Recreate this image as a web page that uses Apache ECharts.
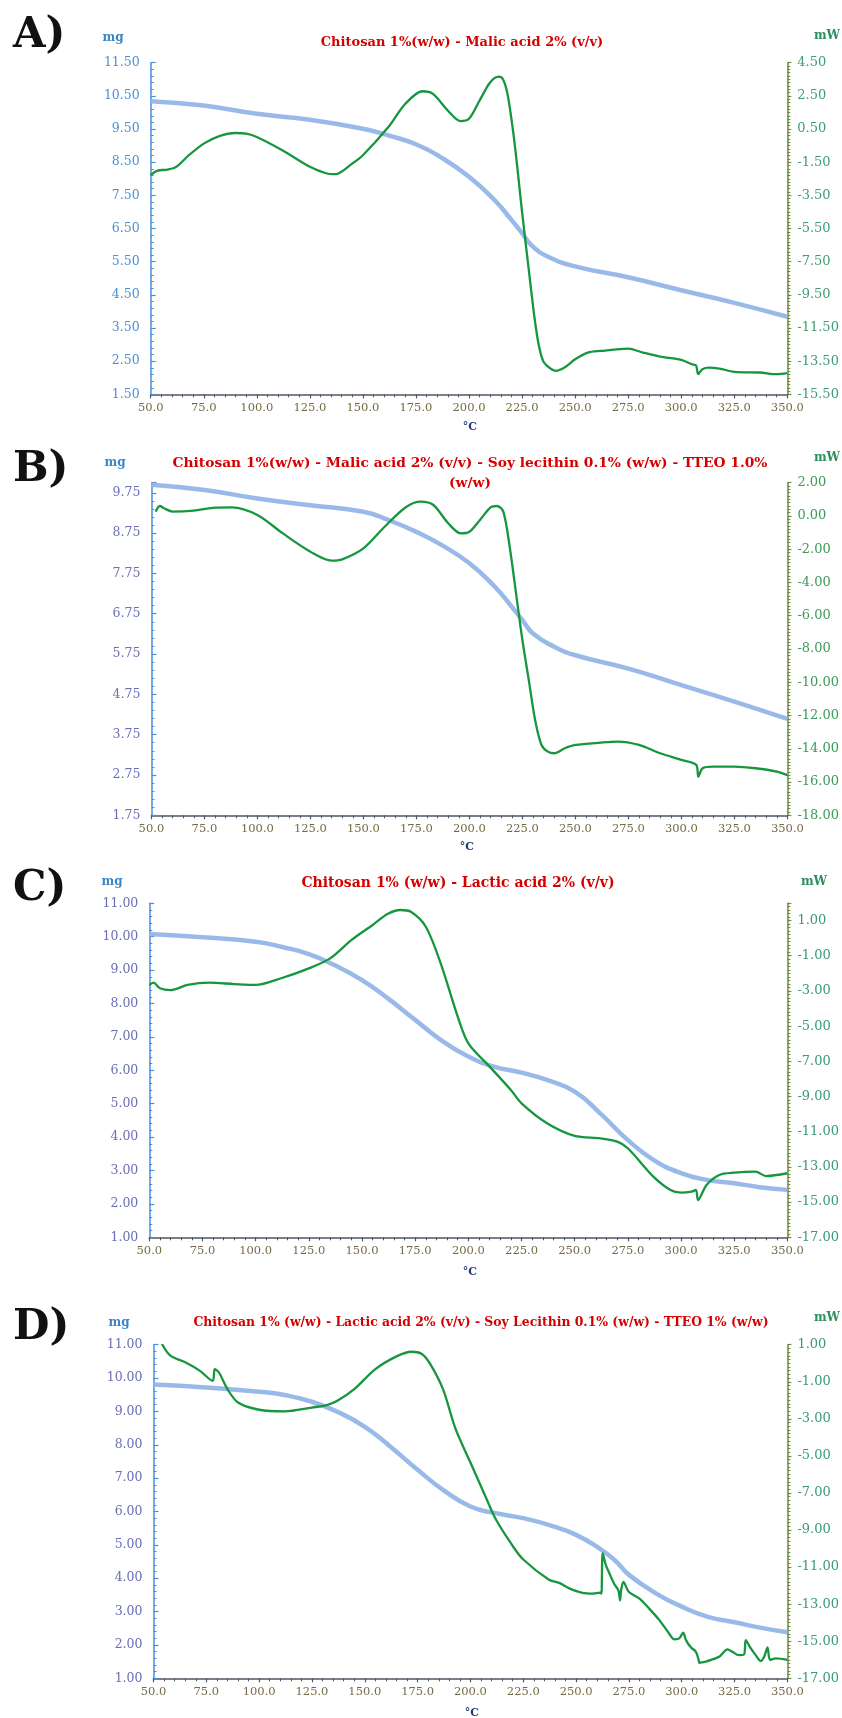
<!DOCTYPE html>
<html><head><meta charset="utf-8">
<script src="https://cdn.jsdelivr.net/npm/echarts@6/dist/echarts.min.js"></script>
<style>html,body{margin:0;padding:0;background:#fff}#c{width:842px;height:1718px}</style>
</head><body><div id="c"></div>
<script>
// ---- data (temperature °C, value) ----
const tgaA = [[50,10.34],[75,10.21],[100,9.96],[125,9.78],[150,9.51],[162,9.31],[175,9.04],[187,8.64],[200,8.06],[212,7.36],[220,6.76],[225,6.36],[230,5.96],[237,5.66],[250,5.36],[275,5.03],[300,4.64],[325,4.26],[350,3.84]];
const dscA = [[50,-2.28],[53,-2.02],[58,-1.94],[62,-1.78],[68,-1.08],[75,-0.38],[82,0.06],[90,0.26],[95,0.22],[100,0.02],[112,-0.78],[125,-1.78],[133,-2.18],[137,-2.22],[145,-1.58],[150,-1.08],[162,0.62],[170,2.02],[178,2.78],[183,2.62],[190,1.62],[196,0.98],[200,1.12],[205,2.22],[210,3.32],[214,3.66],[216,3.5],[218,2.7],[220,1.1],[222,-0.9],[225,-4.5],[228,-7.8],[231,-11.0],[233,-12.6],[235,-13.5],[238,-13.9],[241,-14.08],[245,-13.88],[250,-13.38],[256,-12.98],[262,-12.88],[275,-12.74],[282,-12.98],[290,-13.22],[300,-13.42],[305,-13.68],[307,-13.75],[308,-14.28],[310,-13.98],[313,-13.88],[318,-13.94],[325,-14.14],[337,-14.18],[345,-14.28],[350,-14.22]];

const tgaB = [[50,9.95],[75,9.82],[100,9.61],[125,9.44],[150,9.28],[162,9.07],[175,8.78],[187,8.45],[200,8.0],[212,7.42],[220,6.92],[225,6.59],[230,6.26],[240,5.93],[250,5.72],[275,5.39],[300,4.98],[325,4.57],[350,4.14]];
const dscB = [[52,0.26],[54,0.6],[56,0.46],[60,0.26],[70,0.32],[80,0.5],[88,0.52],[100,0.06],[112,-1.05],[125,-2.15],[135,-2.69],[140,-2.61],[150,-1.95],[160,-0.65],[170,0.52],[177,0.86],[183,0.66],[190,-0.44],[196,-1.05],[200,-0.95],[205,-0.24],[210,0.52],[213,0.6],[216,0.26],[219,-1.85],[222,-4.65],[225,-7.46],[228,-9.86],[231,-12.27],[234,-13.77],[237,-14.17],[240,-14.27],[245,-13.97],[250,-13.77],[262,-13.63],[270,-13.57],[280,-13.77],[290,-14.27],[300,-14.67],[307,-14.97],[308,-15.68],[310,-15.17],[315,-15.07],[325,-15.07],[335,-15.17],[345,-15.37],[350,-15.58]];

const tgaC = [[50,10.08],[75,9.98],[100,9.85],[112,9.70],[125,9.48],[137,9.15],[150,8.70],[162,8.16],[175,7.51],[187,6.91],[200,6.41],[212,6.11],[225,5.93],[237,5.71],[250,5.36],[262,4.71],[275,3.91],[287,3.32],[300,2.92],[312,2.72],[325,2.62],[337,2.50],[350,2.42]];
const dscC = [[50,-2.66],[52,-2.53],[55,-2.85],[60,-2.95],[68,-2.66],[78,-2.53],[90,-2.61],[100,-2.66],[112,-2.28],[125,-1.72],[135,-1.15],[145,-0.11],[155,0.75],[162,1.37],[168,1.60],[173,1.50],[180,0.65],[187,-1.43],[195,-4.46],[200,-5.98],[210,-7.30],[220,-8.63],[225,-9.39],[237,-10.52],[250,-11.24],[262,-11.38],[270,-11.56],[275,-11.94],[287,-13.55],[295,-14.31],[300,-14.46],[305,-14.40],[307,-14.31],[308,-14.88],[312,-14.03],[318,-13.46],[325,-13.33],[335,-13.27],[340,-13.52],[350,-13.36]];

const tgaD = [[50,9.81],[75,9.72],[100,9.59],[112,9.49],[125,9.29],[137,8.99],[150,8.54],[162,7.95],[175,7.25],[187,6.65],[200,6.15],[212,5.95],[225,5.80],[237,5.60],[250,5.30],[262,4.85],[269,4.50],[275,4.10],[289,3.50],[300,3.15],[312,2.85],[325,2.68],[337,2.52],[350,2.38]];
const dscD = [[54,1.04],[58,0.41],[65,0.05],[72,-0.41],[78,-0.95],[79,-0.32],[81,-0.50],[85,-1.40],[90,-2.12],[100,-2.51],[112,-2.60],[125,-2.39],[132,-2.26],[137,-2.03],[145,-1.40],[155,-0.32],[165,0.37],[172,0.62],[177,0.50],[181,-0.05],[187,-1.40],[193,-3.56],[200,-5.36],[207,-7.16],[212,-8.42],[220,-9.86],[225,-10.59],[237,-11.67],[242,-11.85],[247,-12.16],[253,-12.39],[258,-12.43],[261.5,-12.38],[262,-12.43],[262.6,-10.25],[264,-10.86],[266,-11.4],[268,-11.9],[270,-12.25],[270.8,-12.79],[271.3,-12.25],[272.4,-11.8],[275,-12.34],[280,-12.7],[284.6,-13.24],[289.4,-13.86],[294,-14.58],[296.5,-14.9],[298.8,-14.85],[300.7,-14.54],[302,-14.94],[304.3,-15.33],[306.7,-15.57],[308,-16.01],[308.3,-16.16],[311.4,-16.1],[314.6,-15.98],[317.7,-15.84],[321.7,-15.44],[324,-15.57],[327,-15.75],[329.5,-15.71],[330.3,-14.94],[332.7,-15.39],[335,-15.75],[337.4,-16.07],[339,-15.84],[340.6,-15.33],[341.8,-16.01],[344.5,-15.93],[350,-16.01]];

const letters = ['A)','B)','C)','D)'];
const titles = [
  ['Chitosan 1%(w/w) - Malic acid 2% (v/v)'],
  ['Chitosan 1%(w/w) - Malic acid 2% (v/v) - Soy lecithin 0.1% (w/w) - TTEO 1.0%','(w/w)'],
  ['Chitosan 1% (w/w) - Lactic acid 2% (v/v)'],
  ['Chitosan 1% (w/w) - Lactic acid 2% (v/v) - Soy Lecithin 0.1% (w/w) - TTEO 1% (w/w)']
];
const xRange = [50, 350, 25];
const leftRanges  = [[1.5,11.5,1],[1.75,10.0,1],[1,11,1],[1,11,1]];
const rightRanges = [[-15.5,4.5,2],[-18,2,2],[-17,1.98,2],[-17,1,2]];

// ---- layout ----
const FONT = 'DejaVu Serif';
const layout = [
  {grid:{left:150.7,top:62.7,width:636.6,height:331.7}, letterY:36, titleY:[43], titleX:462, titleSize:13, mg:[113,38], mW:[827,36], degC:[470,427], leftColor:'#4a90d9', rightColor:'#3f9d73'},
  {grid:{left:151.4,top:482.7,width:636.0,height:332.6}, letterY:470, titleY:[463,483], titleX:470, titleSize:13.8, mg:[115,463], mW:[827,458], degC:[467,847], leftColor:'#6a6fb5', rightColor:'#3d9a58'},
  {grid:{left:149.3,top:903.3,width:638.7,height:334.0}, letterY:889, titleY:[883], titleX:458, titleSize:14, mg:[112,882], mW:[814,882], degC:[470,1272], leftColor:'#6a6fb5', rightColor:'#3a9a78'},
  {grid:{left:153.5,top:1344.7,width:634.5,height:333.6}, letterY:1328, titleY:[1323], titleX:481, titleSize:12.4, mg:[119,1323], mW:[827,1318], degC:[472,1713], leftColor:'#6a6fb5', rightColor:'#3a9a78'}
];
const tgaSets = [tgaA,tgaB,tgaC,tgaD];
const dscSets = [dscA,dscB,dscC,dscD];

const grids=[], xAxes=[], yAxes=[], series=[], graphics=[];
layout.forEach((L,i)=>{
  grids.push(Object.assign({containLabel:false, show:false}, L.grid));
  xAxes.push({
    type:'value', gridIndex:i, min:xRange[0], max:xRange[1], interval:xRange[2],
    axisLine:{show:true, onZero:false, lineStyle:{color:'#4f5563', width:1.5}},
    axisTick:{show:true, inside:false, length:4, lineStyle:{color:'#4f5563', width:1.2}},
    minorTick:{show:true, splitNumber:5, length:3, lineStyle:{color:'#4f5563', width:1}},
    splitLine:{show:false},
    axisLabel:{color:'#756a44', fontFamily:FONT, fontSize:11.5, margin:8, formatter:v=>v.toFixed(1)}
  });
  const lr=leftRanges[i], rr=rightRanges[i];
  yAxes.push({
    type:'value', gridIndex:i, position:'left', min:lr[0], max:lr[1], interval:lr[2],
    axisLine:{show:true, onZero:false, lineStyle:{color:'#4a90d9', width:1.5}},
    axisTick:{show:true, inside:true, length:5, lineStyle:{color:'#4a90d9', width:1.2}},
    minorTick:{show:true, splitNumber:5, length:3, lineStyle:{color:'#4a90d9', width:1}},
    splitLine:{show:false},
    axisLabel:{color:L.leftColor, fontFamily:FONT, fontSize:12.5, margin:11, showMaxLabel: i!==1, formatter:v=>v.toFixed(2)}
  });
  yAxes.push({
    type:'value', gridIndex:i, position:'right', min:rr[0], max:rr[1], interval:rr[2],
    axisLine:{show:true, onZero:false, lineStyle:{color:'#6e8b3d', width:1.5}},
    axisTick:{show:true, inside:false, length:4, lineStyle:{color:'#6e8b3d', width:1.2}},
    minorTick:{show:true, splitNumber:10, length:3, lineStyle:{color:'#6e8b3d', width:1}},
    splitLine:{show:false},
    axisLabel:{color:L.rightColor, fontFamily:FONT, fontSize:13, margin:10, showMaxLabel: i!==2, formatter:v=>v.toFixed(2)}
  });
  series.push({
    type:'line', xAxisIndex:i, yAxisIndex:2*i, data:tgaSets[i], showSymbol:false, smooth:0.5,
    lineStyle:{color:'#93b6e8', width:4.5, opacity:0.95}, z:2
  });
  series.push({
    type:'line', xAxisIndex:i, yAxisIndex:2*i+1, data:dscSets[i], showSymbol:false, smooth:0.3,
    lineStyle:{color:'#16963e', width:2.3}, z:3
  });
  graphics.push({type:'text', left:13, top:L.letterY-21, style:{text:letters[i], font:'bold 42px "'+FONT+'"', fill:'#111'}});
  titles[i].forEach((t,k)=>{
    graphics.push({type:'text', x:L.titleX, y:L.titleY[k], style:{text:t, font:'bold '+L.titleSize+'px "'+FONT+'"', fill:'#d40000', align:'center', verticalAlign:'middle'}});
  });
  graphics.push({type:'text', x:L.mg[0], y:L.mg[1], style:{text:'mg', font:'bold 12px "'+FONT+'"', fill:'#3d85c6', align:'center', verticalAlign:'middle'}});
  graphics.push({type:'text', x:L.mW[0], y:L.mW[1], style:{text:'mW', font:'bold 12px "'+FONT+'"', fill:'#2e8f5e', align:'center', verticalAlign:'middle'}});
  graphics.push({type:'text', x:L.degC[0], y:L.degC[1], style:{text:'°C', font:'bold 11px "'+FONT+'"', fill:'#1f3c78', align:'center', verticalAlign:'middle'}});
});

const chart = echarts.init(document.getElementById('c'), null, {renderer:'canvas'});
chart.setOption({
  animation:false, backgroundColor:'#fff',
  grid:grids, xAxis:xAxes, yAxis:yAxes, series:series, graphic:graphics
});
</script></body></html>
